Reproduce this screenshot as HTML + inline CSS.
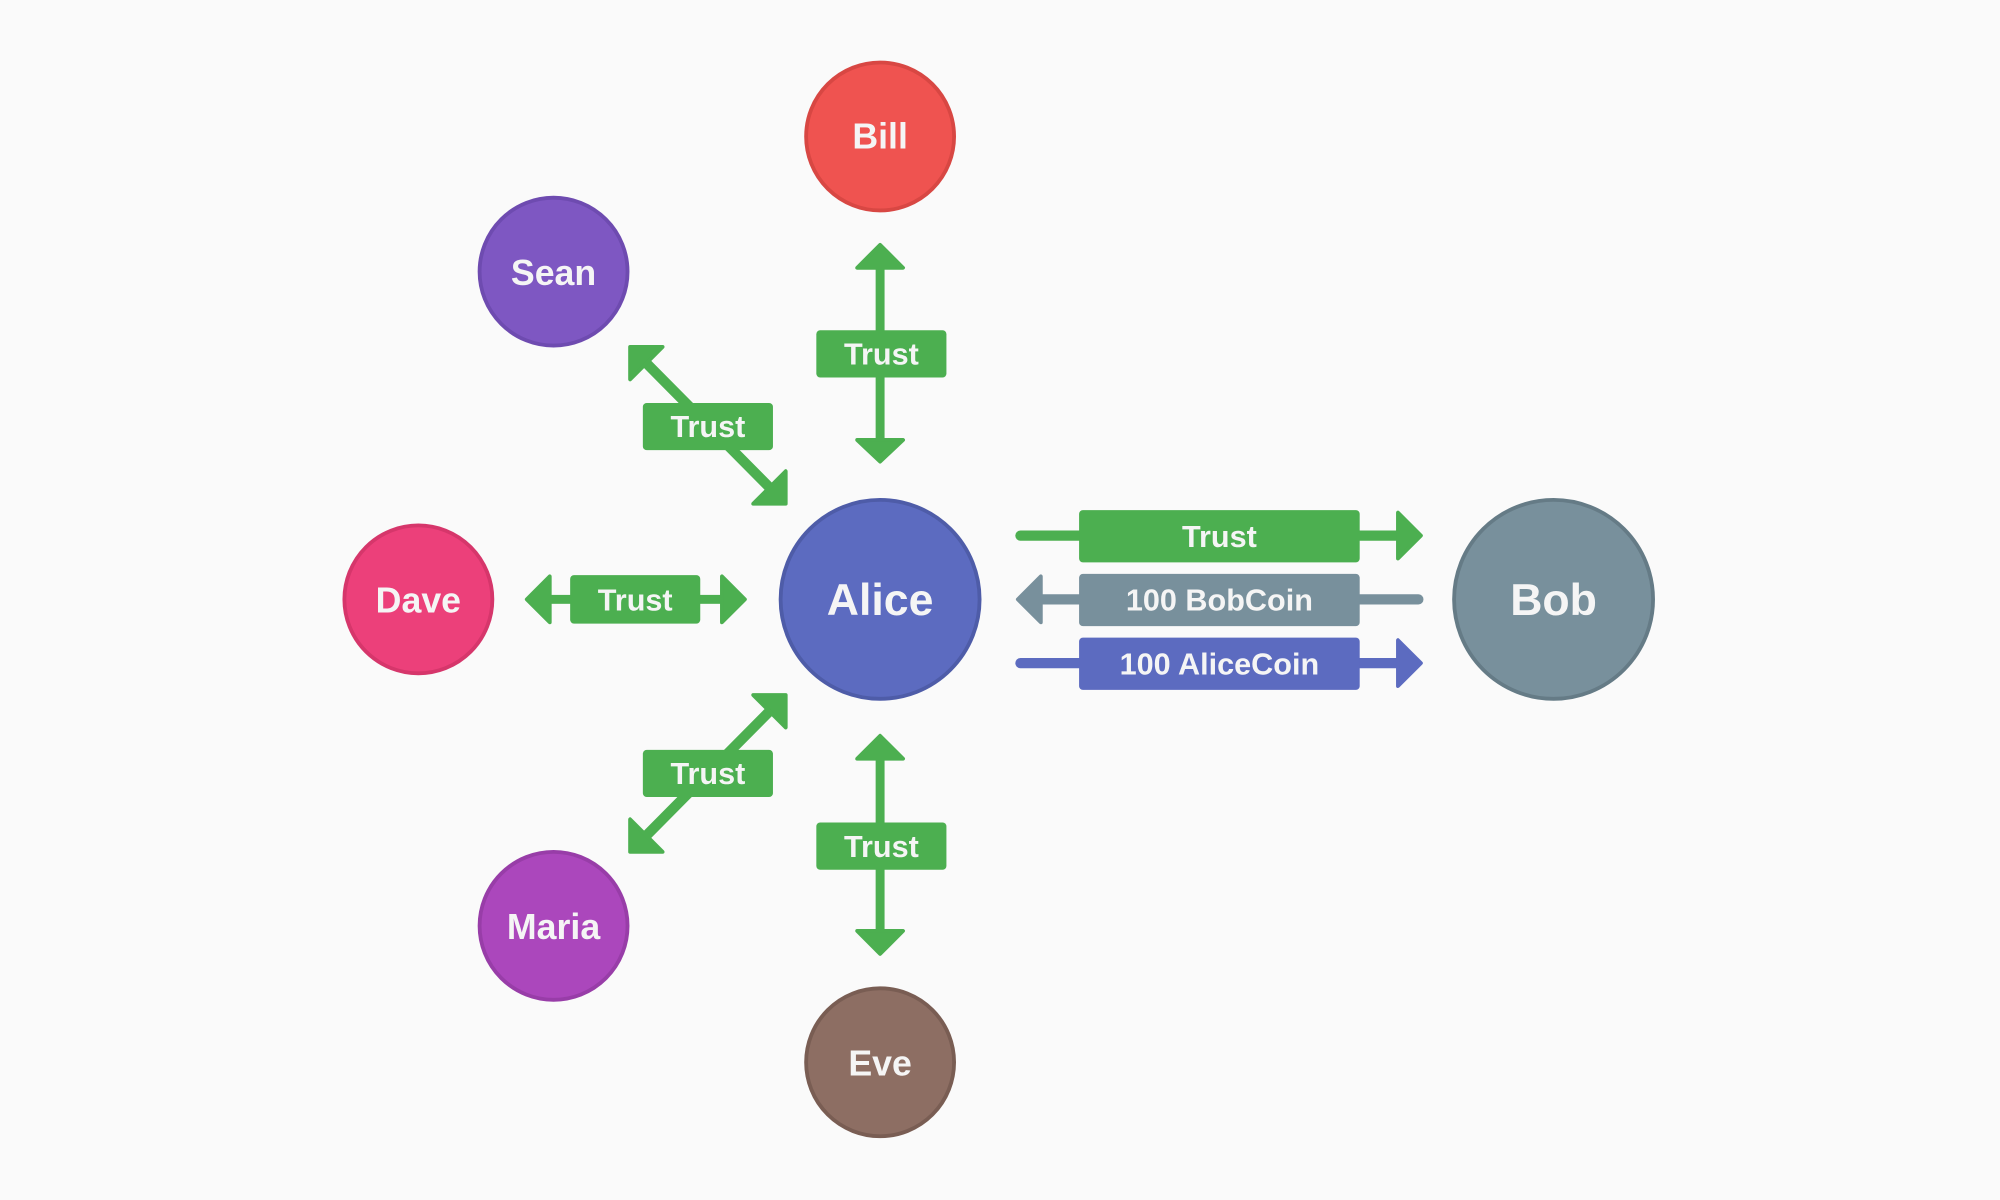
<!DOCTYPE html>
<html><head><meta charset="utf-8"><style>
html,body{margin:0;padding:0;background:#fafafa;}
svg{display:block;}
text{font-family:"Liberation Sans",sans-serif;font-weight:bold;fill:#f5f5f5;text-anchor:middle;dominant-baseline:central;}
</style></head><body>
<svg width="2000" height="1200" viewBox="0 0 1568 941" preserveAspectRatio="none" xmlns="http://www.w3.org/2000/svg">
<rect width="1568" height="941" fill="#fafafa"/>
<g stroke-linejoin="round" stroke-linecap="round">
<!-- Bill arrow -->
<g fill="#4caf50" stroke="#4caf50" stroke-width="3">
<rect x="686.5" y="208" width="7" height="140" stroke="none"/>
<polygon points="690,192 708,210 672,210"/>
<polygon points="690,362 708,345 672,345"/>
<!-- Eve arrow -->
<rect x="686.5" y="593" width="7" height="140" stroke="none"/>
<polygon points="690,577 708,595 672,595"/>
<polygon points="690,748 708,730 672,730"/>
<!-- Dave arrow -->
<rect x="428" y="466.5" width="140" height="7" stroke="none"/>
<polygon points="413,470 431,452 431,488"/>
<polygon points="584,470 566,452 566,488"/>
<!-- Sean diag -->
<line x1="503" y1="281" x2="607" y2="386" stroke-width="8"/>
<polygon points="494,272 519.5,272 494,297.5"/>
<polygon points="616,395 590.5,395 616,369.5"/>
<!-- Maria diag -->
<line x1="607" y1="554" x2="503" y2="659" stroke-width="8"/>
<polygon points="616,545 590.5,545 616,570.5"/>
<polygon points="494,668 519.5,668 494,642.5"/>
<!-- Trust right -->
<line x1="800" y1="420" x2="1100" y2="420" stroke-width="8"/>
<polygon points="1114,420 1096,402 1096,438"/>
</g>
<!-- BobCoin -->
<g fill="#78909c" stroke="#78909c" stroke-width="3">
<line x1="812" y1="470" x2="1112" y2="470" stroke-width="8"/>
<polygon points="798,470 816,452 816,488"/>
</g>
<!-- AliceCoin -->
<g fill="#5c6bc0" stroke="#5c6bc0" stroke-width="3">
<line x1="800" y1="520" x2="1100" y2="520" stroke-width="8"/>
<polygon points="1114,520 1096,502 1096,538"/>
</g>
</g>
<!-- labels -->
<g fill="#4caf50">
<rect x="640" y="259" width="102" height="37" rx="3"/>
<rect x="640" y="645" width="102" height="37" rx="3"/>
<rect x="447" y="451" width="102" height="38" rx="3"/>
<rect x="504" y="316" width="102" height="37" rx="3"/>
<rect x="504" y="588" width="102" height="37" rx="3"/>
<rect x="846" y="400" width="220" height="41" rx="3"/>
</g>
<rect x="846" y="450" width="220" height="41" rx="3" fill="#78909c"/>
<rect x="846" y="500" width="220" height="41" rx="3" fill="#5c6bc0"/>
<g font-size="24">
<text x="691" y="278">Trust</text>
<text x="691" y="664">Trust</text>
<text x="498" y="471">Trust</text>
<text x="555" y="335">Trust</text>
<text x="555" y="607">Trust</text>
<text x="956" y="421">Trust</text>
<text x="956" y="471">100 BobCoin</text>
<text x="956" y="521">100 AliceCoin</text>
</g>
<!-- nodes -->
<g stroke-width="3">
<circle cx="690" cy="107" r="58" fill="#ef5350" stroke="#d84743"/>
<circle cx="434" cy="213" r="58" fill="#7e57c2" stroke="#6e4bb0"/>
<circle cx="328" cy="470" r="58" fill="#ec407a" stroke="#d6366b"/>
<circle cx="690" cy="470" r="78" fill="#5c6bc0" stroke="#4e5ca8"/>
<circle cx="1218" cy="470" r="78" fill="#78909c" stroke="#657b86"/>
<circle cx="434" cy="726" r="58" fill="#ab47bc" stroke="#983da8"/>
<circle cx="690" cy="833" r="58" fill="#8d6e63" stroke="#795d53"/>
</g>
<g font-size="28">
<text x="690" y="107">Bill</text>
<text x="434" y="214">Sean</text>
<text x="328" y="471">Dave</text>
<text x="434" y="727">Maria</text>
<text x="690" y="834">Eve</text>
</g>
<g font-size="35">
<text x="690" y="471">Alice</text>
<text x="1218" y="471">Bob</text>
</g>
</svg>
</body></html>
